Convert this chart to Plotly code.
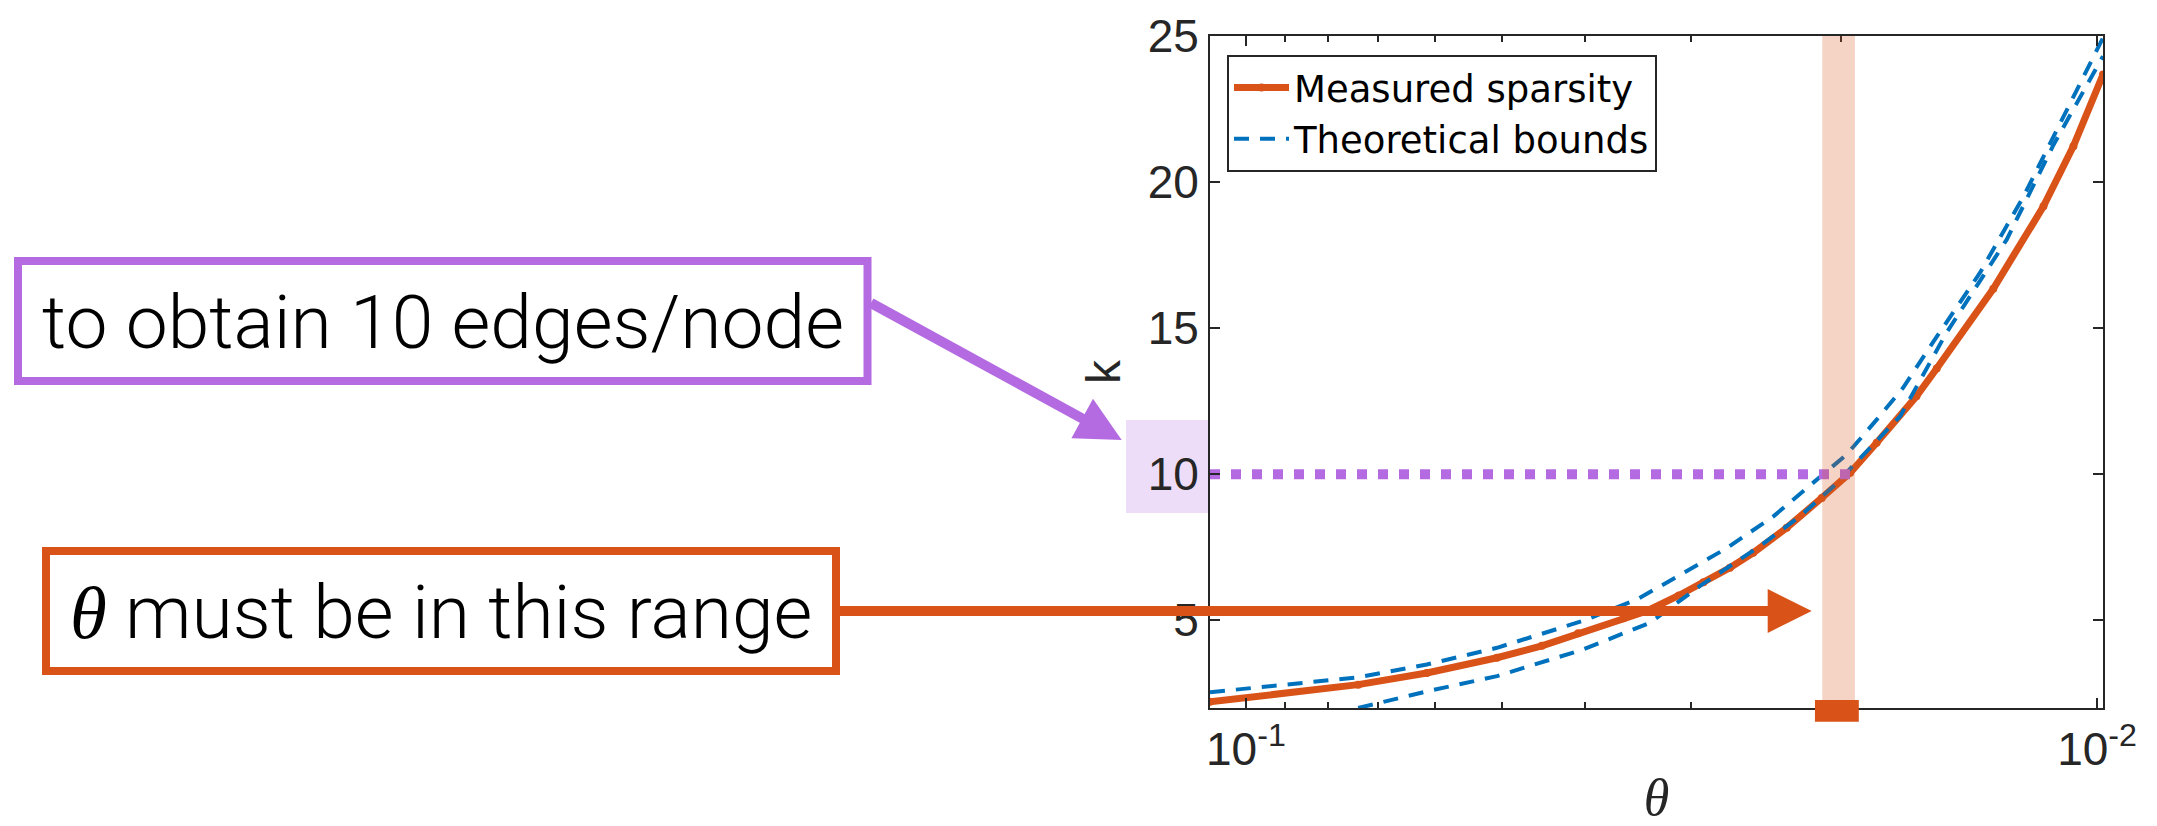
import math
import plotly.graph_objects as go

# ---------------- data ----------------
theta_measured = [0.1102, 0.0738, 0.0613, 0.0507, 0.0449, 0.0407, 0.0360, 0.0338,
                  0.0310, 0.0290, 0.0270, 0.02535, 0.02315, 0.02106, 0.0195, 0.01815,
                  0.0163, 0.01543, 0.01324, 0.01156, 0.01066, 0.00984]
k_measured = [2.21, 2.80, 3.20, 3.72, 4.13, 4.56, 5.07, 5.32,
              5.85, 6.30, 6.80, 7.31, 8.17, 9.19, 10.05, 11.08,
              12.67, 13.62, 16.35, 19.17, 21.23, 23.68]

theta_upper = [0.1102, 0.0738, 0.0613, 0.0507, 0.0402, 0.0347, 0.0312, 0.0272, 0.0240,
               0.02135, 0.01968, 0.01815, 0.0169, 0.0157, 0.01373, 0.0122, 0.01086, 0.00984]
k_upper = [2.54, 3.05, 3.49, 4.06, 4.98, 5.72, 6.48, 7.48, 8.56,
           9.82, 10.68, 11.87, 12.96, 14.38, 16.89, 19.51, 22.48, 24.94]

theta_lower = [0.0738, 0.0613, 0.0507, 0.0402, 0.0335, 0.0293, 0.0249, 0.02234,
               0.0204, 0.01866, 0.01703, 0.01503, 0.01277, 0.01127, 0.00984]
k_lower = [2.0, 2.57, 3.09, 4.0, 4.92, 6.17, 7.54, 8.56,
           9.59, 10.79, 11.99, 14.84, 18.03, 21.23, 24.31]

theta_target = [0.1102, 0.0195]
k_target = [10, 10]

theta_band = [0.02103, 0.01925]       # admissible theta range (shaded band)
theta_band_marker = [0.02145, 0.01905]

x_range = [0.1102, 0.00984]
y_range = [2, 25]
x_major = [0.1, 0.01]
x_major_text = ["10<sup>-1</sup>", "10<sup>-2</sup>"]
x_minor = [0.09, 0.08, 0.07, 0.06, 0.05, 0.04, 0.03, 0.02]
y_ticks = [5, 10, 15, 20, 25]

ORANGE = "#D95319"
BLUE = "#0072BD"
PURPLE = "#B46BE2"
AX = "#262626"
SANS = "Liberation Sans, Arial, sans-serif"
LIGHT = "Roboto, Liberation Sans, Arial, sans-serif"

# ---------------- geometry helpers (page pixels -> paper) ----------------
W, H = 2157, 826
L, R, T, B = 1210, 2103, 36, 708
PW, PH = R - L, B - T


def fx(px):
    return (px - L) / PW


def fy(py):
    return (B - py) / PH


def ky(py):
    return y_range[0] + (B - py) / PH * (y_range[1] - y_range[0])


def arrow_shapes(tail, tip, color, width, head_len, head_w):
    dx, dy = tip[0] - tail[0], tip[1] - tail[1]
    n = math.hypot(dx, dy)
    ux, uy = dx / n, dy / n
    px_, py_ = -uy, ux
    bx, by = tip[0] - head_len * ux, tip[1] - head_len * uy
    ex, ey = bx + 4 * ux, by + 4 * uy
    c1 = (bx + head_w / 2 * px_, by + head_w / 2 * py_)
    c2 = (bx - head_w / 2 * px_, by - head_w / 2 * py_)
    shaft = dict(type="line", xref="paper", yref="paper",
                 x0=fx(tail[0]), y0=fy(tail[1]), x1=fx(ex), y1=fy(ey),
                 line=dict(color=color, width=width))
    path = "M {:.5f},{:.5f} L {:.5f},{:.5f} L {:.5f},{:.5f} Z".format(
        fx(tip[0]), fy(tip[1]), fx(c1[0]), fy(c1[1]), fx(c2[0]), fy(c2[1]))
    head = dict(type="path", xref="paper", yref="paper", path=path,
                fillcolor=color, line=dict(color=color, width=0))
    return [shaft, head]


fig = go.Figure()

fig.add_trace(go.Scatter(
    x=theta_measured, y=k_measured, mode="lines+markers",
    line=dict(color=ORANGE, width=7), marker=dict(color=ORANGE, size=8),
    name="Measured sparsity", legendrank=1))

fig.add_trace(go.Scatter(
    x=theta_upper + [None] + theta_lower, y=k_upper + [None] + k_lower,
    mode="lines", line=dict(color=BLUE, width=4, dash="15px,11px"),
    name="Theoretical bounds", legendrank=2, connectgaps=False))

fig.add_trace(go.Scatter(
    x=theta_target, y=k_target, mode="lines",
    line=dict(color=PURPLE, width=10, dash="10px,11px"),
    showlegend=False, hoverinfo="skip"))

shapes = [
    # light purple highlight behind the "10" tick label
    dict(type="rect", xref="paper", yref="y", x0=fx(1126), x1=fx(1210),
         y0=ky(513), y1=ky(420), fillcolor="#EEDDF8", line=dict(width=0), layer="below"),
    # shaded band of admissible theta (shape coords on a log axis are data values)
    dict(type="rect", xref="x", yref="paper",
         x0=theta_band[0], x1=theta_band[1], y0=0, y1=1,
         fillcolor="rgba(217,83,25,0.25)", line=dict(width=0), layer="above"),
    # solid marker of the band on the x axis
    dict(type="rect", xref="x", yref="paper",
         x0=theta_band_marker[0], x1=theta_band_marker[1],
         y0=fy(721.7), y1=fy(700), fillcolor=ORANGE, line=dict(width=0), layer="above"),
    # annotation boxes
    dict(type="rect", xref="paper", yref="paper", x0=fx(18), x1=fx(867.5),
         y0=fy(381), y1=fy(261), line=dict(color=PURPLE, width=8), fillcolor="white"),
    dict(type="rect", xref="paper", yref="paper", x0=fx(46), x1=fx(836),
         y0=fy(671), y1=fy(551), line=dict(color=ORANGE, width=8), fillcolor="white"),
]
shapes += arrow_shapes((871, 303), (1121.7, 440), PURPLE, 10, 45, 45)
shapes += arrow_shapes((840, 611), (1811.7, 611), ORANGE, 10, 44, 44)

annotations = [
    dict(xref="paper", yref="paper", x=fx(442.7), y=fy(322), text="to obtain 10 edges/node",
         showarrow=False, xanchor="center", yanchor="middle",
         font=dict(family=LIGHT, size=75, color="black", weight=300)),
    dict(xref="paper", yref="paper", x=fx(441), y=fy(612),
         text="<span style='font-family:Liberation Serif'><i>θ</i></span> must be in this range",
         showarrow=False, xanchor="center", yanchor="middle",
         font=dict(family=LIGHT, size=75, color="black", weight=300)),
]

fig.update_layout(
    width=W, height=H, autosize=False,
    margin=dict(l=L, r=W - R, t=T, b=H - B, pad=0, autoexpand=False),
    paper_bgcolor="white", plot_bgcolor="white",
    font=dict(family=SANS, color=AX),
    shapes=shapes, annotations=annotations,
    legend=dict(x=fx(1227), y=fy(55), xanchor="left", yanchor="top",
                bordercolor=AX, borderwidth=2, bgcolor="white", itemwidth=55,
                font=dict(family="DejaVu Sans, sans-serif", size=37, color="black"),
                tracegroupgap=0),
    xaxis=dict(type="log", range=[math.log10(x_range[0]), math.log10(x_range[1])],
               tickvals=x_major, ticktext=x_major_text, automargin=False,
               ticks="inside", ticklen=10, tickwidth=2, tickcolor=AX,
               showline=True, linecolor=AX, linewidth=2, mirror="ticks",
               showgrid=False, zeroline=False, tickfont=dict(size=46, color=AX),
               minor=dict(tickvals=x_minor, ticks="inside", ticklen=6, tickwidth=2,
                          tickcolor=AX, showgrid=False),
               title=dict(text="<i>θ</i>", standoff=34,
                          font=dict(family="Liberation Serif, serif", size=52, color=AX))),
    yaxis=dict(range=y_range, tickvals=y_ticks, automargin=False,
               ticks="inside", ticklen=10, tickwidth=2, tickcolor=AX,
               showline=True, linecolor=AX, linewidth=2, mirror="ticks",
               showgrid=False, zeroline=False, tickfont=dict(size=46, color=AX),
               title=dict(text="k", standoff=12, font=dict(size=48, color=AX))),
)

fig.write_html("out.html")
